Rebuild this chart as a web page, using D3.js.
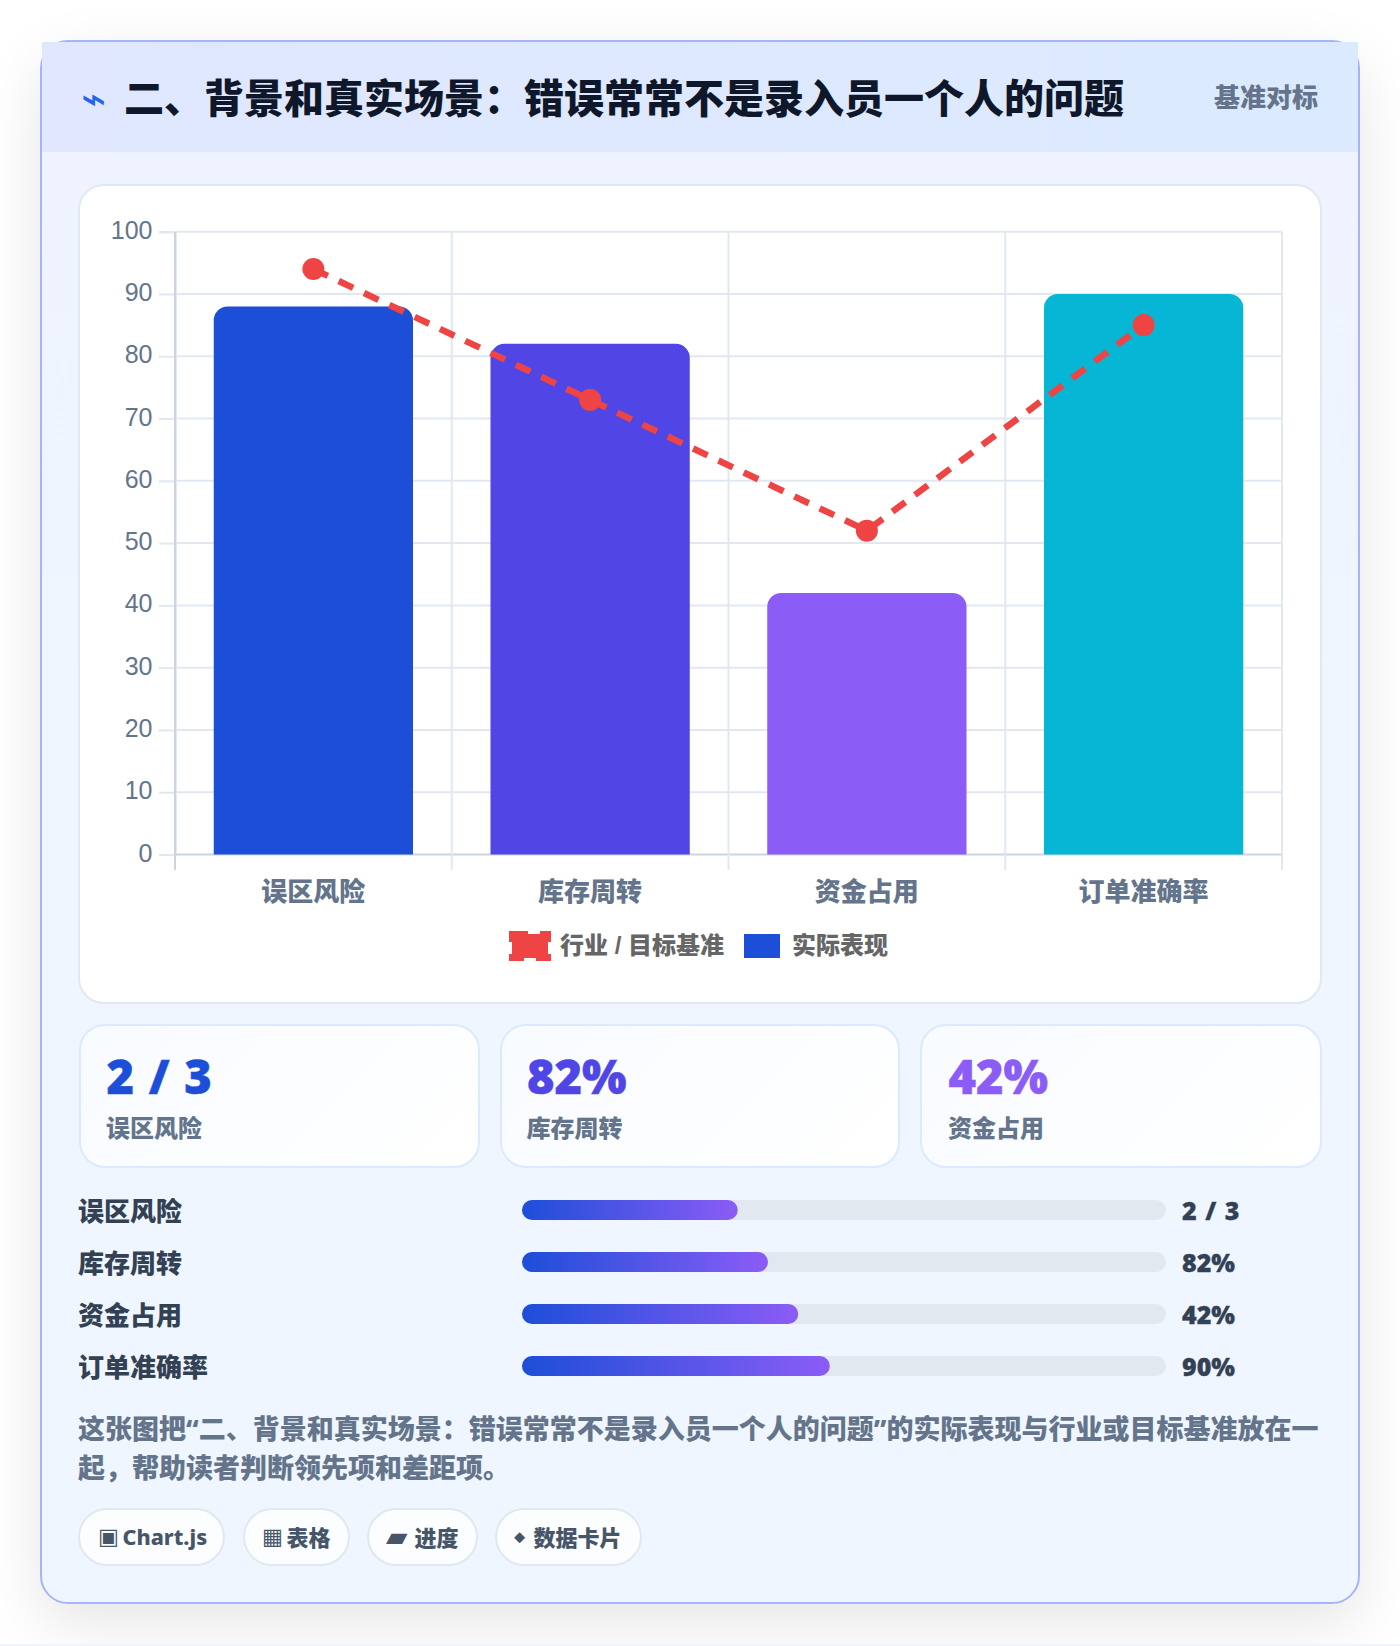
<!DOCTYPE html>
<html lang="zh"><head><meta charset="utf-8">
<script src="https://cdn.jsdelivr.net/npm/d3@7/dist/d3.min.js"></script>
<style>
html,body{margin:0;padding:0;width:1400px;height:1646px;overflow:hidden;background:#f1f5f9}
body{font-family:"Noto Sans","Noto Sans CJK SC",sans-serif;position:relative}
#page{position:absolute;left:0;top:0;width:1400px;height:1644px;background:#fff;overflow:hidden}
.abs{position:absolute;box-sizing:border-box;white-space:nowrap}
.card{left:40px;top:40px;width:1320px;height:1564px;border:2px solid #a5b4fc;border-radius:28px;
 background:linear-gradient(180deg,#eef2ff,#eff6ff 40%,#f0f6ff);box-shadow:0 20px 60px rgba(0,0,0,.1)}
.head{left:42px;top:42px;width:1316px;height:110px;background:linear-gradient(90deg,#e0e7ff,#dbeafe)}
.panel{left:78px;top:184px;width:1244px;height:820px;border:2.5px solid #e2e8f0;border-radius:26px;background:#fff}
.stat{top:1024px;height:144px;border:2.5px solid #dbeafe;border-radius:26px;background:linear-gradient(135deg,#f8fbff,#fff)}
.t{line-height:1;font-weight:800}
svg{position:absolute;left:0;top:0}
</style></head><body>
<div id="page"></div>
<script>
const categories=["误区风险","库存周转","资金占用","订单准确率"];
const actualValues=[88,82,42,90];
const benchmarkValues=[94,73,52,85];
const barColors=["#1d4ed8","#4f46e5","#8b5cf6","#06b6d4"];
const yTicks=[0,10,20,30,40,50,60,70,80,90,100];
const statValues=["2 / 3","82%","42%"];
const statLabels=["误区风险","库存周转","资金占用"];
const statColors=["#1d4ed8","#4f46e5","#8b5cf6"];
const rowLabels=["误区风险","库存周转","资金占用","订单准确率"];
const rowFill=[33.5,38.2,42.9,47.8];
const rowValues=["2 / 3","82%","42%","90%"];
const legendLabels=["行业 / 目标基准","实际表现"];
const pillIcons=["▣","▦","▰","⬥"];
const pillIconSizes=[22,22,28,16];
const pillLabelSizes=[21.6,22,22,22];
const pillLabels=["Chart.js","表格","进度","数据卡片"];
const titleText="二、背景和真实场景\uFF1A错误常常不是录入员一个人的问题";
const badgeText="基准对标";
const noteLines=["这张图把\u201C二、背景和真实场景\uFF1A错误常常不是录入员一个人的问题\u201D的实际表现与行业或目标基准放在一","起\uFF0C帮助读者判断领先项和差距项。"];

const chartFont="'Liberation Sans',Arial,'Noto Sans CJK SC',sans-serif";
const page=d3.select("#page");
const box=(cls)=>page.append("div").attr("class","abs "+cls);
const text=(s,x,yc,size,color,weight=800,extra={})=>{
  const d=page.append("div").attr("class","abs t").text(s)
    .style("left",x+"px").style("top",(yc-size/2)+"px").style("font-size",size+"px")
    .style("color",color).style("font-weight",weight);
  Object.entries(extra).forEach(([k,v])=>d.style(k,v));
  return d;
};
box("card");box("head");box("panel");

text("⌁",81,99,42,"#2563eb",400,{"font-family":"'DejaVu Sans'"});
text(titleText,124,98,40,"#0f172a");
text(badgeText,1214,97,26,"#64748b");

/* chart */
const svg=page.append("svg").attr("width",1400).attr("height",1644);
const y=d3.scaleLinear().domain([0,100]).range([854.5,231.7]);
const x=d3.scaleBand().domain(categories).range([175,1282]);
const bw=x.bandwidth(), barW=bw*0.72;
const gridCol="#e2e8f0", axisCol="#cbd5e1";

const gy=svg.append("g").attr("transform","translate(175,0)")
  .call(d3.axisLeft(y).tickValues(yTicks).tickSize(16).tickPadding(6.5));
gy.select(".domain").attr("stroke",axisCol).attr("stroke-width",2);
gy.selectAll(".tick line").attr("stroke",gridCol).attr("stroke-width",2);
gy.selectAll(".tick text").attr("fill","#64748b")
  .style("font-family","'Liberation Sans',Arial,sans-serif").style("font-size","25px").attr("dy","0.26em");

svg.append("g").selectAll("line").data(yTicks).join("line")
  .attr("x1",175).attr("x2",1282).attr("y1",d=>y(d)).attr("y2",d=>y(d))
  .attr("stroke",d=>d===0?axisCol:gridCol).attr("stroke-width",2);
const edges=[...categories.map(c=>x(c)),x.range()[1]];
svg.append("g").selectAll("line").data(edges).join("line")
  .attr("x1",d=>d).attr("x2",d=>d).attr("y1",y(100)).attr("y2",870)
  .attr("stroke",(d,i)=>i===0?axisCol:gridCol).attr("stroke-width",2);

const r=14;
svg.append("g").selectAll("path").data(actualValues).join("path")
  .attr("fill",(d,i)=>barColors[i])
  .attr("d",(d,i)=>{
    const p=d3.path(), l=x(categories[i])+(bw-barW)/2, rt=l+barW, top=y(d), b=y(0);
    p.moveTo(l,b);p.lineTo(l,top+r);p.arcTo(l,top,l+r,top,r);
    p.lineTo(rt-r,top);p.arcTo(rt,top,rt,top+r,r);p.lineTo(rt,b);p.closePath();return p.toString();
  });

const cx=(d,i)=>x(categories[i])+bw/2;
svg.append("path").datum(benchmarkValues)
  .attr("d",d3.line().x(cx).y(d=>y(d)))
  .attr("fill","none").attr("stroke","#ef4444").attr("stroke-width",6.5).attr("stroke-dasharray","16 12");
svg.append("g").selectAll("circle").data(benchmarkValues).join("circle")
  .attr("cx",cx).attr("cy",d=>y(d)).attr("r",11).attr("fill","#ef4444");

svg.append("g").selectAll("text").data(categories).join("text")
  .attr("x",(d)=>x(d)+bw/2).attr("y",892).attr("dy","0.36em").attr("text-anchor","middle")
  .attr("fill","#64748b").style("font-family",chartFont).style("font-size","26px").style("font-weight",800).text(d=>d);

/* legend */
svg.append("rect").attr("x",512).attr("y",934).attr("width",36).attr("height",24)
  .attr("fill","#ef4444").attr("stroke","#ef4444").attr("stroke-width",6).attr("stroke-dasharray","16 12");
svg.append("rect").attr("x",744).attr("y",934).attr("width",36).attr("height",24).attr("fill",barColors[0]);
svg.append("g").selectAll("text").data(legendLabels).join("text")
  .attr("x",(d,i)=>[560,792][i]).attr("y",945).attr("dy","0.36em")
  .attr("fill","#666").style("font-family",chartFont).style("font-size","24px").style("font-weight",800).text(d=>d);

/* stat cards */
const statX=[78.5,500,920], statW=[401.5,400,402];
const statTextX=[106.5,527,948.5];
statValues.forEach((v,i)=>{
  page.append("div").attr("class","abs stat").style("left",statX[i]+"px").style("width",statW[i]+"px");
  text(v,statTextX[i],1076,47,statColors[i],900,{"word-spacing":"2.5px","-webkit-text-stroke":"0.5px "+statColors[i]});
  text(statLabels[i],statTextX[i]-0.5,1127.5,24,"#64748b");
});

/* progress rows */
const rowY=d3.scalePoint().domain(rowLabels).range([1210,1366]);
const prog=d3.scaleLinear().domain([0,100]).range([0,644]);
const bars=page.append("svg").attr("width",1400).attr("height",1644);
const bdefs=bars.append("defs");
rowLabels.forEach((l,i)=>{
  const yc=rowY(l);
  text(l,78,yc+1,26,"#334155");
  bars.append("rect").attr("x",522).attr("y",yc-10).attr("width",prog(100)).attr("height",20).attr("rx",10).attr("fill","#e2e8f0");
  const g=bdefs.append("linearGradient").attr("id","pg"+i);
  g.append("stop").attr("offset","0").attr("stop-color","#1d4ed8");
  g.append("stop").attr("offset","1").attr("stop-color","#8b5cf6");
  bars.append("rect").attr("x",522).attr("y",yc-10).attr("width",prog(rowFill[i])).attr("height",20).attr("rx",10).attr("fill",`url(#pg${i})`);
  text(rowValues[i],1182,yc+0.5,25,"#334155",900,{"word-spacing":"2px","-webkit-text-stroke":"0.3px #334155"});
});

/* note */
noteLines.forEach((s,i)=>text(s,78,1428.5+i*39,27,"#64748b"));

/* pills */
const pillX=[78,242.5,366.5,494.5], pillW=[147,107,111,147];
const pillIconX=[98,262,386,514], pillTextX=[122.5,286.5,414.5,533.5];
pillLabels.forEach((l,i)=>{
  page.append("div").attr("class","abs").style("left",pillX[i]+"px").style("top","1507.5px")
    .style("width",pillW[i]+"px").style("height","58px").style("border","2.5px solid #e2e8f0")
    .style("border-radius","29px").style("background","rgba(255,255,255,.75)");
  text(pillIcons[i],pillIconX[i],1536.5,pillIconSizes[i],"#475569",400,{"font-family":"'DejaVu Sans'"});
  text(l,pillTextX[i],1537,pillLabelSizes[i],"#475569");
});
</script>
</body></html>
